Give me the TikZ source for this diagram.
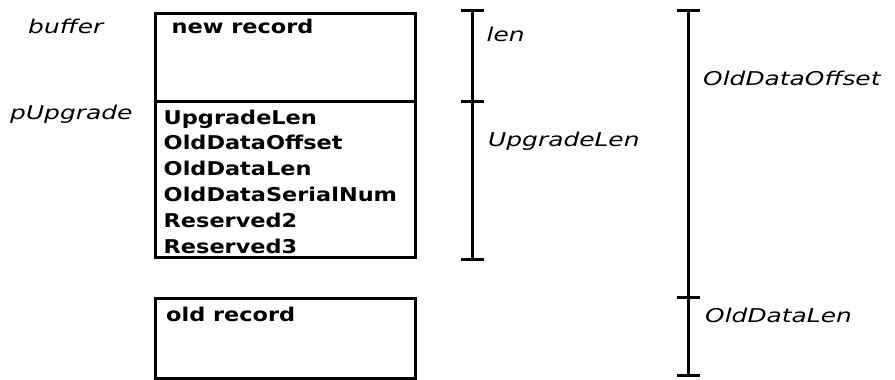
\documentclass[tikz,border=0pt]{standalone}
\usepackage{fontspec}
\newfontfamily\recfont[FakeStretch=1.18]{DejaVu Sans Bold}
\newfontfamily\dimfont[FakeStretch=1.31]{DejaVu Sans Oblique}
\usetikzlibrary{positioning}

\begin{document}
\begin{tikzpicture}[x=1pt,y=-1pt,
    record/.style={draw,line width=3pt,outer sep=0pt,inner sep=0pt,minimum width=260pt,anchor=north west},
    field/.style={anchor=base west,inner sep=0pt,font=\recfont\fontsize{19}{25}\selectfont},
    dim label/.style={anchor=base west,inner sep=0pt,font=\dimfont\fontsize{19}{25}\selectfont},
    span/.style={line width=3pt},
    tick/.style={line width=3pt,shorten <=-11.5pt,shorten >=-11.5pt}]

                \useasboundingbox (0,0) rectangle (895,380);

                \node[record, minimum height=87.5pt] (newrec) at (155,13.5) {};
                \node[record, minimum height=156pt] (upgrade) at (newrec.south west) {};
                \node[record, minimum height=79.5pt] (oldrec) at (155,298.5) {};

                \node[field] (newtitle) at (171.5,34) {new record};
                \node[field] (oldtitle) at (166,321.5) {old record};

                \foreach \name [count=\i] in {UpgradeLen,OldDataOffset,OldDataLen,OldDataSerialNum,Reserved2,Reserved3}{
                    \node[field] (f\i) at (163.5,{124+25.9*(\i-1)}) {\name};
                }

                \coordinate (lenTop) at (472.5,10);
                \coordinate (lenMid) at (472.5,101);
                \coordinate (lenBot) at (472.5,259);
                \coordinate (offTop) at (688,10);
                \coordinate (offMid) at (688,297);
                \coordinate (offBot) at (688,375);

                \draw[span] (lenTop) -- (lenBot);
                \draw[span] (offTop) -- (offBot);

                \foreach \pt in {lenTop,lenMid,lenBot,offTop,offMid,offBot}{
                    \draw[tick] (\pt) -- ([xshift=0.01pt]\pt);
                }

                \node[dim label] (lenlbl) at (486.5,41.5) {len};
                \node[dim label] (uplenlbl) at (488,146.5) {UpgradeLen};
                \node[dim label] (offlbl) at (703,85) {OldDataOffset};
                \node[dim label] (oldlenlbl) at (705,322.5) {OldDataLen};
                \node[dim label] (bufferlbl) at (28,33.5) {buffer};
                \node[dim label] (pupglbl) at (10,119.5) {pUpgrade};

            \end{tikzpicture}
\end{document}
